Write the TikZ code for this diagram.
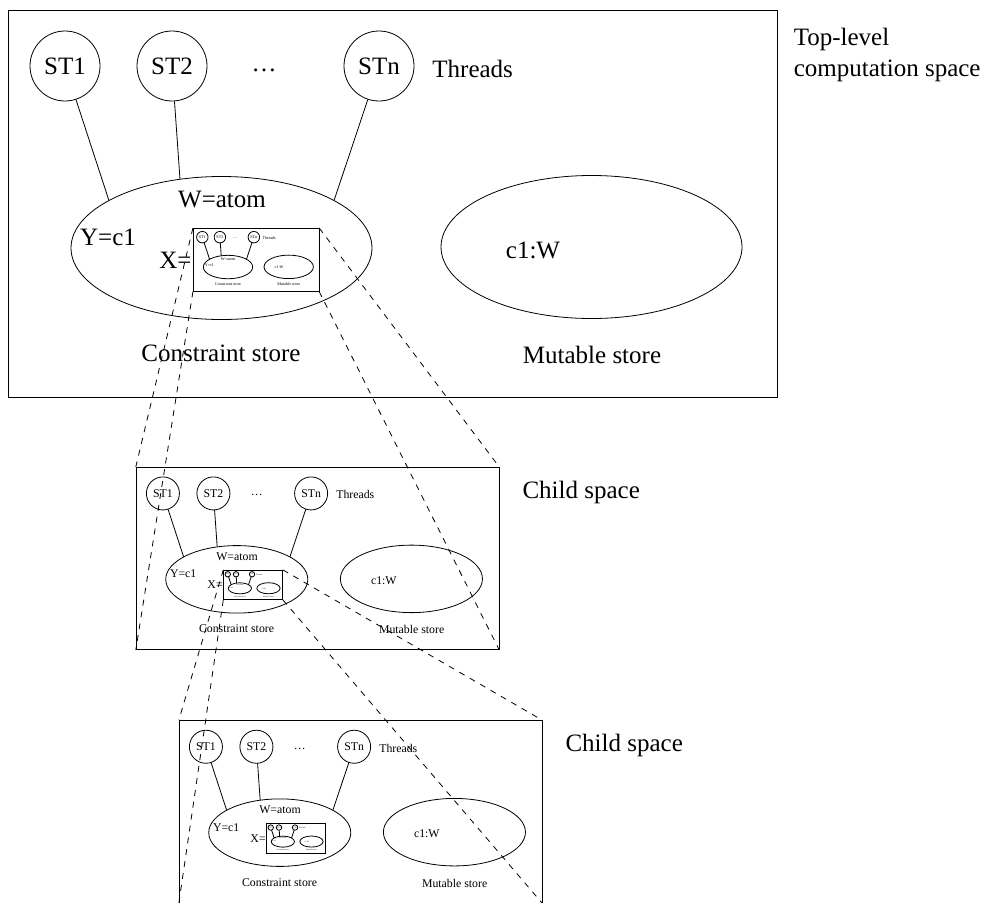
\documentclass[tikz,border=0pt]{standalone}
\usepackage{fontspec}
\setmainfont{Liberation Serif}
\usetikzlibrary{shapes.geometric,positioning}

\newcommand{\mainsize}{\fontsize{25pt}{31pt}\selectfont}

% one computation space, drawn from its own top-left corner
\newcommand{\spacebody}[2]{%
  \node[spacebox] (#1) at (384.5,193.5) {};
  \node[thread] (#1t1) at (57,56) {ST1};
  \node[thread] (#1t2) at (164,56) {ST2};
  \node[txt] (#1dots) at (256,60) {\symbol{"2026}};
  \node[thread] (#1tn) at (371,56) {STn};
  \node[txt, anchor=west] (#1thr) at (424,59) {Threads};
  \node[store] (#1cs) at (213.5,238) {};
  \node[store] (#1ms) at (583.5,237) {};
  \draw (#1t1) -- (#1cs.157);
  \draw (#1t2) -- (#1cs.121);
  \draw (#1tn) -- (#1cs.23);
  \node[txt] (#1w) at (214,190) {W=atom};
  \node[txt] (#1y) at (100,227) {Y=c1};
  \node[txt] (#1c) at (525,240) {c1:W};
  \node[txt] (#1csl) at (213,343) {Constraint store};
  \node[txt] (#1msl) at (584,345) {Mutable store};
  #2%
}
% the nested space that X is bound to
\newcommand{\innerspace}[1]{%
  \node[txt, anchor=east] (#1x) at (184,250) {X=};
  \begin{scope}[shift={(185,218)}, scale=0.164, transform shape]
    \spacebody{#1z}{}
  \end{scope}
}

\begin{document}
\begin{tikzpicture}[x=1pt, y=-1pt, font=\mainsize, line width=0.8pt,
    txt/.style={inner sep=0pt},
    thread/.style={draw, circle, minimum size=70pt, inner sep=0pt},
    store/.style={draw, ellipse, minimum width=301pt, minimum height=143pt, inner sep=0pt},
    spacebox/.style={draw, rectangle, minimum width=769pt, minimum height=387pt, inner sep=0pt},
    zoomline/.style={dash pattern=on 6pt off 6pt}]
  \useasboundingbox (0,0) rectangle (987,902);
  \clip (0,0) rectangle (987,902);

  % top-level space
  \begin{scope}[shift={(8,10)}]
    \spacebody{top}{\innerspace{top}}
  \end{scope}
  \node[txt, align=left, below right=18pt and 16pt of top.north east] (toplbl)
    {Top-level\\computation space};

  % first child space
  \begin{scope}[shift={(136,467)}, scale=0.472, transform shape]
    \spacebody{ca}{\innerspace{ca}}
  \end{scope}
  \node[txt, below right=14pt and 23pt of ca.north east] (calbl) {Child space};

  % second child space
  \begin{scope}[shift={(179,720.3)}, scale=0.472, transform shape]
    \spacebody{cb}{\innerspace{cb}}
  \end{scope}
  \node[txt, below right=14pt and 23pt of cb.north east] (cblbl) {Child space};

  % zoom lines
  \foreach \c in {north west,north east,south west,south east}{
    \draw[zoomline] (topz.\c) -- (ca.\c);
    \draw[zoomline] (caz.\c) -- (cb.\c);
  }
\end{tikzpicture}
\end{document}
